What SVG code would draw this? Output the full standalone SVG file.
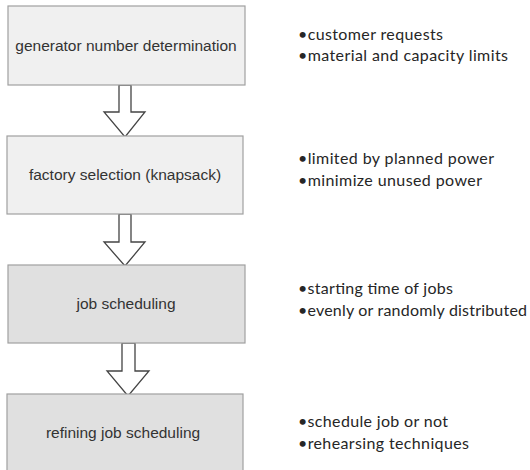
<svg xmlns="http://www.w3.org/2000/svg" width="530" height="470" viewBox="0 0 530 470">
  <style>
    .box { stroke: #a0a0a0; stroke-width: 1.2; }
    .light { fill: #f0f0f0; }
    .dark { fill: #e0e0e0; }
    .label { font-family: "Liberation Sans", Arial, sans-serif; font-size: 15.5px; fill: #333333; text-anchor: middle; }
    .note { font-family: Lato, "Open Sans", sans-serif; font-size: 16px; fill: #262626; }
    .arrow { fill: #ffffff; stroke: #444444; stroke-width: 1.3; stroke-linejoin: miter; }
  </style>
  <rect width="530" height="470" fill="#ffffff"/>

  <g id="connectors">
    <path class="arrow" d="M119,85 V112 H104 L125,137 L145,112 H131 V85 Z"/>
    <path class="arrow" d="M119,214 V242 H104 L125,266 L145,242 H131 V214 Z"/>
    <path class="arrow" d="M122,343 V371 H107 L128,396 L149,371 H135 V343 Z"/>
  </g>

  <g id="generator-number">
    <rect class="box light" x="8" y="6" width="237" height="79"/>
    <text class="label" x="126" y="51">generator number determination</text>
  </g>
  <g id="factory-selection">
    <rect class="box light" x="7" y="136" width="236" height="78"/>
    <text class="label" x="125" y="180">factory selection (knapsack)</text>
  </g>
  <g id="job-scheduling">
    <rect class="box dark" x="8" y="265" width="237" height="78"/>
    <text class="label" x="126" y="309">job scheduling</text>
  </g>
  <g id="refining-job-scheduling">
    <rect class="box dark" x="7" y="394" width="236" height="80"/>
    <text class="label" x="123" y="438">refining job scheduling</text>
  </g>

  <g id="notes">
    <text class="note" x="298" y="40" textLength="145">•customer requests</text>
    <text class="note" x="298" y="61" textLength="210">•material and capacity limits</text>
    <text class="note" x="298" y="164" textLength="196">•limited by planned power</text>
    <text class="note" x="298" y="186" textLength="184">•minimize unused power</text>
    <text class="note" x="298" y="294" textLength="155">•starting time of jobs</text>
    <text class="note" x="298" y="316" textLength="229">•evenly or randomly distributed</text>
    <text class="note" x="298" y="427" textLength="150">•schedule job or not</text>
    <text class="note" x="298" y="449" textLength="171">•rehearsing techniques</text>
  </g>
</svg>
